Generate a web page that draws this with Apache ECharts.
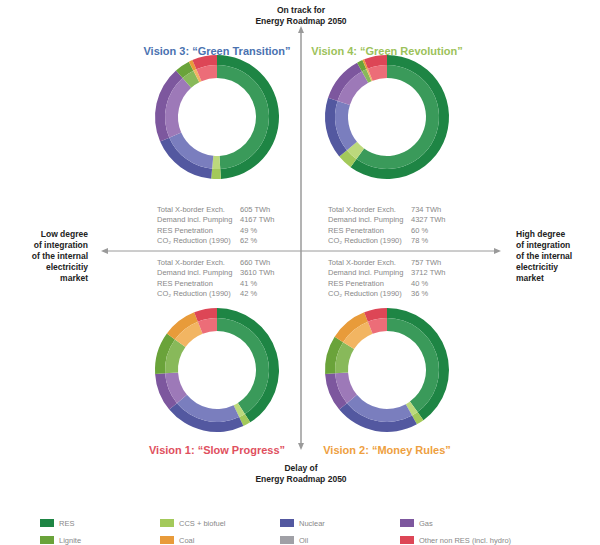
<!DOCTYPE html>
<html><head><meta charset="utf-8">
<script src="https://cdn.jsdelivr.net/npm/echarts@6/dist/echarts.min.js"></script>
<style>html,body{margin:0;background:#fff}#chart{width:600px;height:545px}</style>
</head><body><div id="chart"></div>
<script>
var chart = echarts.init(document.getElementById("chart"), null, { renderer: "svg" });

const fuels = ["RES", "CCS + biofuel", "Nuclear", "Gas", "Lignite", "Coal", "Oil", "Other non RES (incl. hydro)"];
const darkColors = ["#1e8544", "#a3c95a", "#5358a0", "#7d579e", "#6aa33a", "#e89b3a", "#a0a0a6", "#dd4656"];
const lightColors = ["#3a9a5a", "#bcd97c", "#7a7ebe", "#9d79b8", "#88b95a", "#f2b562", "#bdbdc1", "#ec6d78"];

const vision3 = [49, 2.5, 17, 20, 4, 1, 0, 6.5];
const vision4 = [60, 4, 16, 12, 1.5, 0.5, 0, 6];
const vision1 = [41, 2, 21, 10, 11, 9, 0, 6];
const vision2 = [40, 2, 22, 10, 10, 10, 0, 6];

const titles = ["Vision 3: \u201cGreen Transition\u201d", "Vision 4: \u201cGreen Revolution\u201d",
  "Vision 1: \u201cSlow Progress\u201d", "Vision 2: \u201cMoney Rules\u201d"];
const titleColors = ["#4a72b0", "#9cc25a", "#e0505e", "#eea040"];

const statLabels = ["Total X-border Exch.", "Demand incl. Pumping", "RES Penetration", "CO\u2082 Reduction (1990)"];
const stats3 = ["605 TWh", "4167 TWh", "49 %", "62 %"];
const stats4 = ["734 TWh", "4327 TWh", "60 %", "78 %"];
const stats1 = ["660 TWh", "3610 TWh", "41 %", "42 %"];
const stats2 = ["757 TWh", "3712 TWh", "40 %", "36 %"];

var visions = [
  { data: vision3, c: [217, 117], stats: stats3, sx: 157, sy: 204 },
  { data: vision4, c: [387, 117], stats: stats4, sx: 328, sy: 204 },
  { data: vision1, c: [217, 370], stats: stats1, sx: 157, sy: 257 },
  { data: vision2, c: [387, 370], stats: stats2, sx: 328, sy: 257 },
];

var series = [];
visions.forEach(function (v, k) {
  [[52, 62, darkColors], [39, 52, lightColors]].forEach(function (ring) {
    series.push({
      type: "pie",
      name: titles[k],
      center: v.c,
      radius: [ring[0], ring[1]],
      startAngle: 90,
      silent: true,
      animation: false,
      label: { show: false },
      labelLine: { show: false },
      itemStyle: { borderWidth: 0 },
      data: v.data.map(function (val, i) {
        return { name: fuels[i], value: val, itemStyle: { color: ring[2][i] } };
      }),
    });
  });
});

var graphic = [];
var axisColor = "#9a9a9a";
graphic.push({ type: "line", shape: { x1: 301, y1: 30, x2: 301, y2: 446 }, style: { stroke: axisColor, lineWidth: 1.5 } });
graphic.push({ type: "line", shape: { x1: 105, y1: 251, x2: 497, y2: 251 }, style: { stroke: axisColor, lineWidth: 1 } });
graphic.push({ type: "polygon", shape: { points: [[301, 26], [298, 33], [304, 33]] }, style: { fill: axisColor } });
graphic.push({ type: "polygon", shape: { points: [[301, 450], [298, 443], [304, 443]] }, style: { fill: axisColor } });
graphic.push({ type: "polygon", shape: { points: [[101, 251], [108, 248], [108, 254]] }, style: { fill: axisColor } });
graphic.push({ type: "polygon", shape: { points: [[501, 251], [494, 248], [494, 254]] }, style: { fill: axisColor } });

var boldFont = "bold 8.5px 'Liberation Sans', sans-serif";
graphic.push({ type: "text", x: 301, y: 4, style: { text: "On track for\nEnergy Roadmap 2050", font: boldFont, fill: "#222", align: "center", lineHeight: 11 } });
graphic.push({ type: "text", x: 301, y: 462, style: { text: "Delay of\nEnergy Roadmap 2050", font: boldFont, fill: "#222", align: "center", lineHeight: 11 } });
graphic.push({ type: "text", x: 88, y: 228, style: { text: "Low degree\nof integration\nof the internal\nelectricitiy\nmarket", font: boldFont, fill: "#222", align: "right", lineHeight: 11 } });
graphic.push({ type: "text", x: 516, y: 228, style: { text: "High degree\nof integration\nof the internal\nelectricitiy\nmarket", font: boldFont, fill: "#222", align: "left", lineHeight: 11 } });

var titlePos = [[217, 45], [387, 45], [217, 444], [387, 444]];
titles.forEach(function (t, k) {
  graphic.push({ type: "text", x: titlePos[k][0], y: titlePos[k][1], style: { text: t, font: "bold 11px 'Liberation Sans', sans-serif", fill: titleColors[k], align: "center" } });
});

var statFont = "7.5px 'Liberation Sans', sans-serif";
visions.forEach(function (v) {
  graphic.push({ type: "text", x: v.sx, y: v.sy, style: { text: statLabels.join("\n"), font: statFont, fill: "#888", lineHeight: 10.5 } });
  graphic.push({ type: "text", x: v.sx + 83, y: v.sy, style: { text: v.stats.join("\n"), font: statFont, fill: "#888", lineHeight: 10.5 } });
});

var legendCols = [35, 155, 275, 395];
var legends = [];
fuels.forEach(function (f, i) {
  legends.push({
    left: legendCols[i % 4], top: i < 4 ? 514 : 531,
    data: [f], itemWidth: 14, itemHeight: 8, selectedMode: false, itemGap: 4,
    textStyle: { fontSize: 7.5, color: "#888", fontFamily: "'Liberation Sans', sans-serif" },
    icon: "rect",
  });
});

chart.setOption({
  animation: false,
  color: darkColors,
  legend: legends,
  series: series,
  graphic: graphic,
});
</script></body></html>
